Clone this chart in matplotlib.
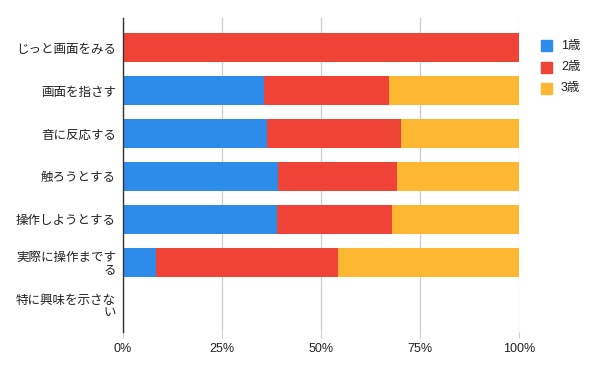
import matplotlib
matplotlib.use("Agg")
import matplotlib.pyplot as plt
from matplotlib.patches import Rectangle
import numpy as np

plt.rcParams['font.family'] = ['Noto Sans CJK JP', 'DejaVu Sans']

categories = ["じっと画面をみる", "画面を指さす", "音に反応する", "触ろうとする",
              "操作しようとする", "実際に操作まです\nる", "特に興味を示さな\nい"]
series_names = ["1歳", "2歳", "3歳"]
age1 = [0.0, 35.6, 36.3, 39.2, 38.8, 8.3, 0.0]
age2 = [100.0, 31.6, 33.9, 29.9, 29.1, 46.0, 0.0]
age3 = [0.0, 32.8, 29.8, 30.9, 32.1, 45.7, 0.0]
xticks = [0, 25, 50, 75, 100]
xtick_labels = ["0%", "25%", "50%", "75%", "100%"]
colors = ["#2d8cea", "#ef4338", "#fdb733"]

W, H = 594, 367
fig = plt.figure(figsize=(W / 100, H / 100), dpi=100)
ax = fig.add_axes([123 / W, 1 - 332 / H, 396 / W, 314 / H])

y = np.arange(len(categories))
left = np.zeros(len(categories))
for vals, c in zip([age1, age2, age3], colors):
    ax.barh(y, vals, left=left, height=0.66, color=c, zorder=3)
    left = left + np.array(vals)

ax.set_ylim(6.62, -0.687)
ax.set_xlim(0, 100)
ax.set_xticks(xticks)
ax.set_xticklabels(xtick_labels, fontsize=9, color="#222222",
                   family=['Liberation Sans', 'Noto Sans CJK JP'])
ax.set_yticks(y)
ax.set_yticklabels(categories, fontsize=9, color="#222222", linespacing=0.95)
for lab in ax.get_yticklabels():
    lab.set_multialignment("right")

for s in ["top", "right", "bottom"]:
    ax.spines[s].set_visible(False)
ax.spines["left"].set_color("#333333")
ax.spines["left"].set_linewidth(1.0)
ax.spines["left"].set_zorder(4)

ax.xaxis.grid(True, color="#cccccc", linewidth=0.9, zorder=0)
ax.tick_params(axis="x", length=4, color="#cccccc", pad=4)
ax.tick_params(axis="y", length=0, pad=5)
ax.get_xticklines()[0].set_color("#333333")

# legend
leg_y = [45.5, 67, 88.5]
for name, c, yy in zip(series_names, colors, leg_y):
    fig.add_artist(Rectangle(((541) / W, 1 - (yy + 5.5) / H), 11 / W, 11 / H,
                             transform=fig.transFigure, color=c))
    fig.text(561 / W, 1 - yy / H, name, fontsize=9, color="#222222",
             va="center", ha="left", family=['Liberation Sans', 'Noto Sans CJK JP'])

fig.savefig("out.png", dpi=100)
